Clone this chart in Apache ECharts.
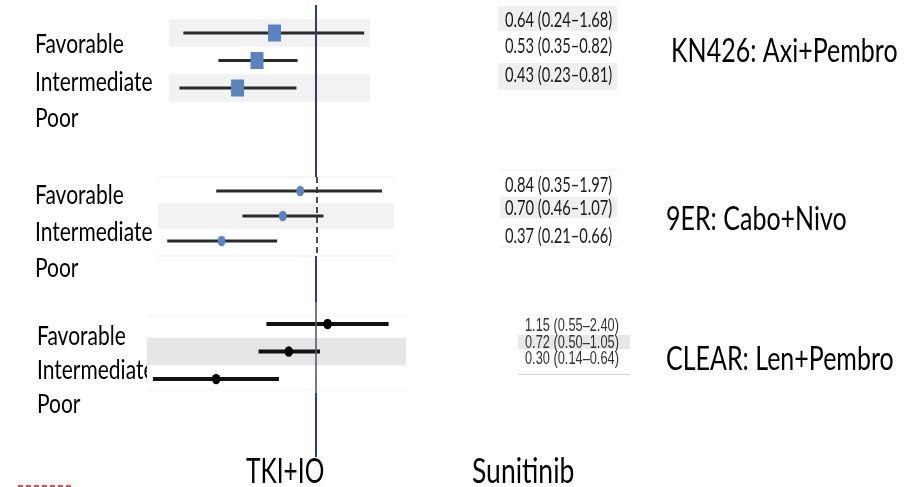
<!DOCTYPE html>
<html><head><meta charset="utf-8">
<script src="https://cdn.jsdelivr.net/npm/echarts@6/dist/echarts.min.js"></script>
<style>html,body{margin:0;padding:0;background:#fff}#c{width:914px;height:487px}</style>
</head><body><div id="c"></div>
<script>
// ---- data ----
const groups = ['Favorable', 'Intermediate', 'Poor'];
const trialNames = ['KN426: Axi+Pembro', '9ER: Cabo+Nivo', 'CLEAR: Len+Pembro'];
const armLabels = ['TKI+IO', 'Sunitinib'];
const kn426HR = [0.64, 0.53, 0.43];
const kn426Lo = [0.24, 0.35, 0.23];
const kn426Hi = [1.68, 0.82, 0.81];
const er9HR = [0.84, 0.70, 0.37];
const er9Lo = [0.35, 0.46, 0.21];
const er9Hi = [1.97, 1.07, 0.66];
const clearHR = [1.15, 0.72, 0.30];
const clearLo = [0.55, 0.50, 0.14];
const clearHi = [2.40, 1.05, 0.64];
const refValue = 1;

// ---- layout (pixels) ----
const panels = [
  {hr: kn426HR, lo: kn426Lo, hi: kn426Hi, left: 169, width: 201, top: 19.25, height: 82.5, yMin: 0.5, yMax: 3.5,
   c: 316, k: 214, bands: [1, 3], bandColor: '#f2f2f2', kind: 'square', lineColor: '#2a2a2a', lw: 3, mColor: '#5b82c1', mSize: [13, 17]},
  {hr: er9HR, lo: er9Lo, hi: er9Hi, left: 158, width: 236, top: 177, height: 79, yMin: 0.44, yMax: 3.6,
   c: 317, k: 221, bands: [2], bandColor: '#f2f2f2', kind: 'dot', lineColor: '#2a2a2a', lw: 3, mColor: '#5b82c1', mSize: [8, 10.5]},
  {hr: clearHR, lo: clearLo, hi: clearHi, left: 147, width: 259, top: 316, height: 74, yMin: 0.71, yMax: 3.4,
   c: 316, k: 191, bands: [2], bandColor: '#e6e6e6', kind: 'dot', lineColor: '#111', lw: 4, mColor: '#000', mSize: [8.5, 10.5]}
];

function ciRender(p) {
  return function (params, api) {
    const row = api.value(3);
    const a = api.coord([api.value(0), row]);
    const b = api.coord([api.value(1), row]);
    const c = api.coord([api.value(2), row]);
    const children = [{type: 'line', shape: {x1: a[0], y1: a[1], x2: b[0], y2: b[1]}, style: {stroke: p.lineColor, lineWidth: p.lw}}];
    if (p.kind === 'square') {
      children.push({type: 'rect', shape: {x: c[0] - p.mSize[0] / 2, y: c[1] - p.mSize[1] / 2, width: p.mSize[0], height: p.mSize[1]}, style: {fill: p.mColor}});
    } else {
      children.push({type: 'circle', x: c[0], y: c[1], scaleY: p.mSize[1] / p.mSize[0], shape: {cx: 0, cy: 0, r: p.mSize[0] / 2}, style: {fill: p.mColor}});
    }
    return {type: 'group', children};
  };
}
function bandRender(p) {
  return function (params, api) {
    const row = api.value(1);
    const t = api.coord([refValue, row - 0.5]);
    const bt = api.coord([refValue, row + 0.5]);
    const cs = params.coordSys;
    return {type: 'rect', shape: {x: cs.x, y: t[1], width: cs.width, height: bt[1] - t[1]}, style: {fill: p.bandColor}};
  };
}

const grid = [], xAxis = [], yAxis = [], series = [];
panels.forEach((p, i) => {
  grid.push({left: p.left, width: p.width, top: p.top, height: p.height});
  xAxis.push({type: 'log', gridIndex: i, show: false,
    min: Math.pow(10, (p.left - p.c) / p.k), max: Math.pow(10, (p.left + p.width - p.c) / p.k)});
  yAxis.push({type: 'value', gridIndex: i, show: false, inverse: true, min: p.yMin, max: p.yMax});
  series.push({type: 'custom', xAxisIndex: i, yAxisIndex: i, z: 1, silent: true,
    data: p.bands.map(r => [refValue, r]), encode: {x: 0, y: 1}, renderItem: bandRender(p)});
  series.push({type: 'custom', xAxisIndex: i, yAxisIndex: i, z: 3, silent: true,
    data: groups.map((g, j) => [p.lo[j], p.hi[j], p.hr[j], j + 1]), encode: {x: [0, 1, 2], y: 3}, renderItem: ciRender(p)});
});

const chart = echarts.init(document.getElementById('c'), null, {renderer: 'canvas'});
chart.setOption({animation: false, backgroundColor: '#fff', grid, xAxis, yAxis, series});

// ---- annotations ----
const g = [];
const FONT = 'Lato';
function txt(s, x, y, size, sy, opts) {
  opts = opts || {};
  return {type: 'text', x, y, scaleY: sy, z: (opts.z != null ? opts.z : 5),
    style: {text: s, font: (opts.weight || 'normal') + ' ' + size + 'px ' + (opts.family || FONT), fill: opts.fill || '#000',
      textAlign: opts.align || 'left', textVerticalAlign: 'middle'}};
}
// reference line x
const xr = [0, 1, 2].map(i => chart.convertToPixel({xAxisIndex: i}, refValue));
const blue = '#2d3c7e';
[[5, 177], [256, 302], [393, 457]].forEach(s => g.push({type: 'line', z: 10, shape: {x1: xr[0], y1: s[0], x2: xr[0], y2: s[1]}, style: {stroke: blue, lineWidth: 2}}));
g.push({type: 'line', z: 10, shape: {x1: xr[1], y1: 177, x2: xr[1], y2: 256}, style: {stroke: '#222', lineWidth: 1.6, lineDash: [6, 4]}});
g.push({type: 'line', z: 10, shape: {x1: xr[2], y1: 302, x2: xr[2], y2: 393}, style: {stroke: '#55596e', lineWidth: 1.6}});
// panel 2 separators, panel 3 faint separators
g.push({type: 'line', z: 2, shape: {x1: 158, y1: 177, x2: 394, y2: 177}, style: {stroke: '#eeeeee', lineWidth: 1}});
g.push({type: 'line', z: 2, shape: {x1: 158, y1: 256, x2: 394, y2: 256}, style: {stroke: '#eeeeee', lineWidth: 1}});
g.push({type: 'line', z: 2, shape: {x1: 147, y1: 316, x2: 406, y2: 316}, style: {stroke: '#f4f4f4', lineWidth: 1}});
g.push({type: 'line', z: 2, shape: {x1: 147, y1: 390, x2: 406, y2: 390}, style: {stroke: '#f4f4f4', lineWidth: 1}});

// left labels
const labelY = [[44.5, 82, 118.5], [195, 232, 268], [336.5, 370, 404.5]];
const labelX = [35, 35, 37];
labelY.forEach((ys, i) => ys.forEach((y, j) => g.push(txt(groups[j], labelX[i], y, 21, 1.32, {z: 0}))));
// the pasted CLEAR panel (white background) hides the end of its label
g.push({type: 'rect', z: 0.5, shape: {x: 147, y: 316, width: 14, height: 74}, style: {fill: '#ffffff'}});

// trial names
const titleY = [51, 219, 359];
const titleX = [671, 666, 666];
trialNames.forEach((t, i) => g.push(txt(t, titleX[i], titleY[i], 25, 1.32)));

// value boxes
const fmt = v => v.toFixed(2);
g.push({type: 'rect', z: 1, shape: {x: 498, y: 6, width: 119, height: 25}, style: {fill: '#efefef'}});
g.push({type: 'rect', z: 1, shape: {x: 498, y: 63, width: 119, height: 27}, style: {fill: '#efefef'}});
g.push({type: 'rect', z: 1, shape: {x: 500, y: 197, width: 117, height: 21}, style: {fill: '#efefef'}});
g.push({type: 'line', z: 1, shape: {x1: 500, y1: 170, x2: 617, y2: 170}, style: {stroke: '#eeeeee', lineWidth: 1}});
g.push({type: 'line', z: 1, shape: {x1: 500, y1: 247, x2: 617, y2: 247}, style: {stroke: '#eeeeee', lineWidth: 1}});
g.push({type: 'rect', z: 1, shape: {x: 518, y: 335, width: 112, height: 14}, style: {fill: '#e8e8e8'}});
g.push({type: 'line', z: 1, shape: {x1: 518, y1: 374.5, x2: 630, y2: 374.5}, style: {stroke: '#d4d4d4', lineWidth: 1}});
const valY = [[19.5, 45.5, 74.5], [184.5, 207.5, 235.5], [326, 342.5, 359]];
const valX = [505, 505, 525];
panels.forEach((p, i) => groups.forEach((gname, j) => {
  const s = fmt(p.hr[j]) + ' (' + fmt(p.lo[j]) + '\u2013' + fmt(p.hi[j]) + ')';
  if (i < 2) g.push(txt(s, valX[i], valY[i][j], 14.7, 1.5, {fill: '#1a1a1a'}));
  else g.push(txt(s, valX[i], valY[i][j], 12.8, 1.42, {fill: '#333', family: '"Liberation Sans"'}));
}));

// arm labels
g.push(txt(armLabels[0], 246, 471.5, 24.5, 1.4));
g.push(txt(armLabels[1], 472, 471.5, 26.5, 1.32));
// red dashes bottom-left
g.push({type: 'line', z: 1, shape: {x1: 18, y1: 486, x2: 71, y2: 486}, style: {stroke: '#e84848', lineWidth: 2, lineDash: [5, 3]}});

chart.setOption({graphic: {elements: g}});
</script>
</body></html>
